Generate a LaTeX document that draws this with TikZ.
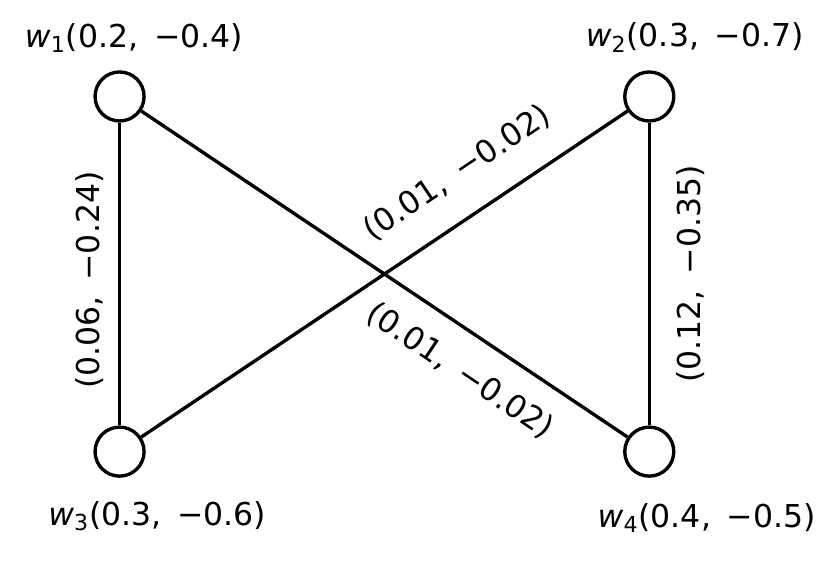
\documentclass[tikz,border=0pt]{standalone}
\usepackage{fontspec}
\setmainfont{DejaVu Sans}

\begin{document}
\begin{tikzpicture}[
    vertex/.style={circle, draw, line width=1.6pt, minimum size=0.82cm, inner sep=0pt},
    edge/.style={-, line width=1.6pt},
    wlabel/.style={text centered, font=\fontsize{15}{18}\selectfont},
    elabel/.style={sloped, font=\fontsize{15}{18}\selectfont}
]
            \useasboundingbox (0,0) rectangle (14,9.384);

            \node[vertex] at (2.0,7.77) (w1) {};
            \node[vertex] at (10.86,7.77) (w2) {};
            \node[vertex] at (2.0,1.83) (w3) {};
            \node[vertex] at (10.86,1.83) (w4) {};

            \node[wlabel] at (2.24,8.75) (l1) {\textit{w}\textsubscript{1}(0.2,\enspace−0.4)};
            \node[wlabel] at (11.62,8.75) (l2) {\textit{w}\textsubscript{2}(0.3,\enspace−0.7)};
            \node[wlabel] at (2.63,0.75) (l3) {\textit{w}\textsubscript{3}(0.3,\enspace−0.6)};
            \node[wlabel] at (11.82,0.72) (l4) {\textit{w}\textsubscript{4}(0.4,\enspace−0.5)};

            \draw[edge] (w3) -- node[elabel, above=3.5pt, pos=0.48]{(0.06,\enspace−0.24)} (w1);
            \draw[edge] (w4) -- node[elabel, below=9pt, midway]{(0.12,\enspace−0.35)} (w2);
            \draw[edge] (w3) -- node[elabel, above=10pt, pos=0.7]{(0.01,\enspace−0.02)} (w2);
            \draw[edge] (w1) -- node[elabel, below=7.5pt, pos=0.7]{(0.01,\enspace−0.02)} (w4);
        \end{tikzpicture}
\end{document}
